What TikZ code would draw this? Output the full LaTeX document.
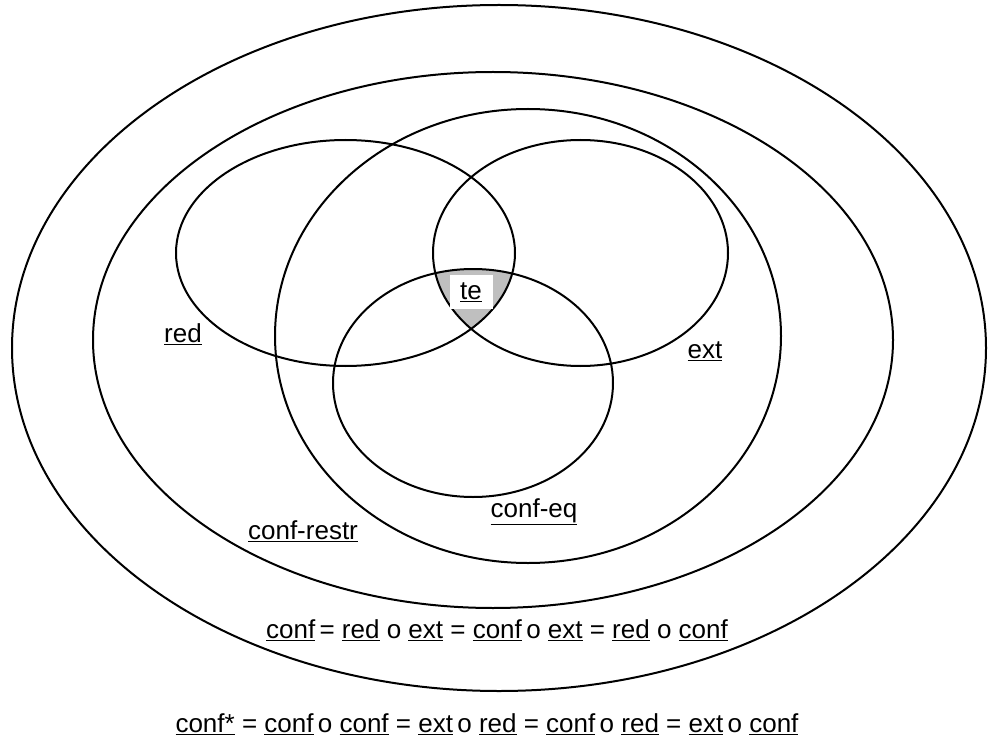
\documentclass[tikz,border=0pt]{standalone}
\usepackage{fontspec}
\setmainfont{Liberation Sans}
\usepackage{tikz}

\begin{document}
\begin{tikzpicture}[
    x=1pt, y=-1pt,
    set/.style={draw, line width=2pt},
    lbl/.style={font=\fontsize{26}{31}\selectfont, inner sep=1pt},
    cut/.style={fill=gray!50}
]
\useasboundingbox (0,0) rectangle (988,738);

% Outer sets
\draw[set] (499,348) ellipse [x radius=487pt, y radius=343pt];
\draw[set] (493,340) ellipse [x radius=400pt, y radius=268pt];
\draw[set] (528,336) ellipse [x radius=253pt, y radius=227pt];

% Shaded common part of red, ext and conf-eq
\begin{scope}
  \clip (345.5,253) ellipse [x radius=169.5pt, y radius=113pt];
  \clip (580.5,253) ellipse [x radius=147.5pt, y radius=113pt];
  \fill[cut] (473,383) ellipse [x radius=140pt, y radius=114pt];
\end{scope}

% Inner sets
\draw[set] (345.5,253) ellipse [x radius=169.5pt, y radius=113pt];
\draw[set] (580.5,253) ellipse [x radius=147.5pt, y radius=113pt];
\draw[set] (473,383) ellipse [x radius=140pt, y radius=114pt];

% Labels
\node[lbl, fill=white, minimum width=43pt, minimum height=34pt] (te) at (471,292) {\underline{te}};
\node[lbl] (red) at (183,334) {\underline{red}};
\node[lbl] (ext) at (705,351) {\underline{ext}};
\node[lbl] (confeq) at (534,512) {\underline{conf-eq}};
\node[lbl] (confrestr) at (303,531) {\underline{conf-restr}};
\node[lbl] (conf) at (497,630) {\underline{conf}\,= \underline{red} o \underline{ext} = \underline{conf}\,o \underline{ext} = \underline{red} o \underline{conf}};
\node[lbl] (confstar) at (487,724) {\underline{conf*} = \underline{conf}\,o \underline{conf} = \underline{ext}\,o \underline{red} = \underline{conf}\,o \underline{red} = \underline{ext}\,o \underline{conf}};
\end{tikzpicture}
\end{document}
